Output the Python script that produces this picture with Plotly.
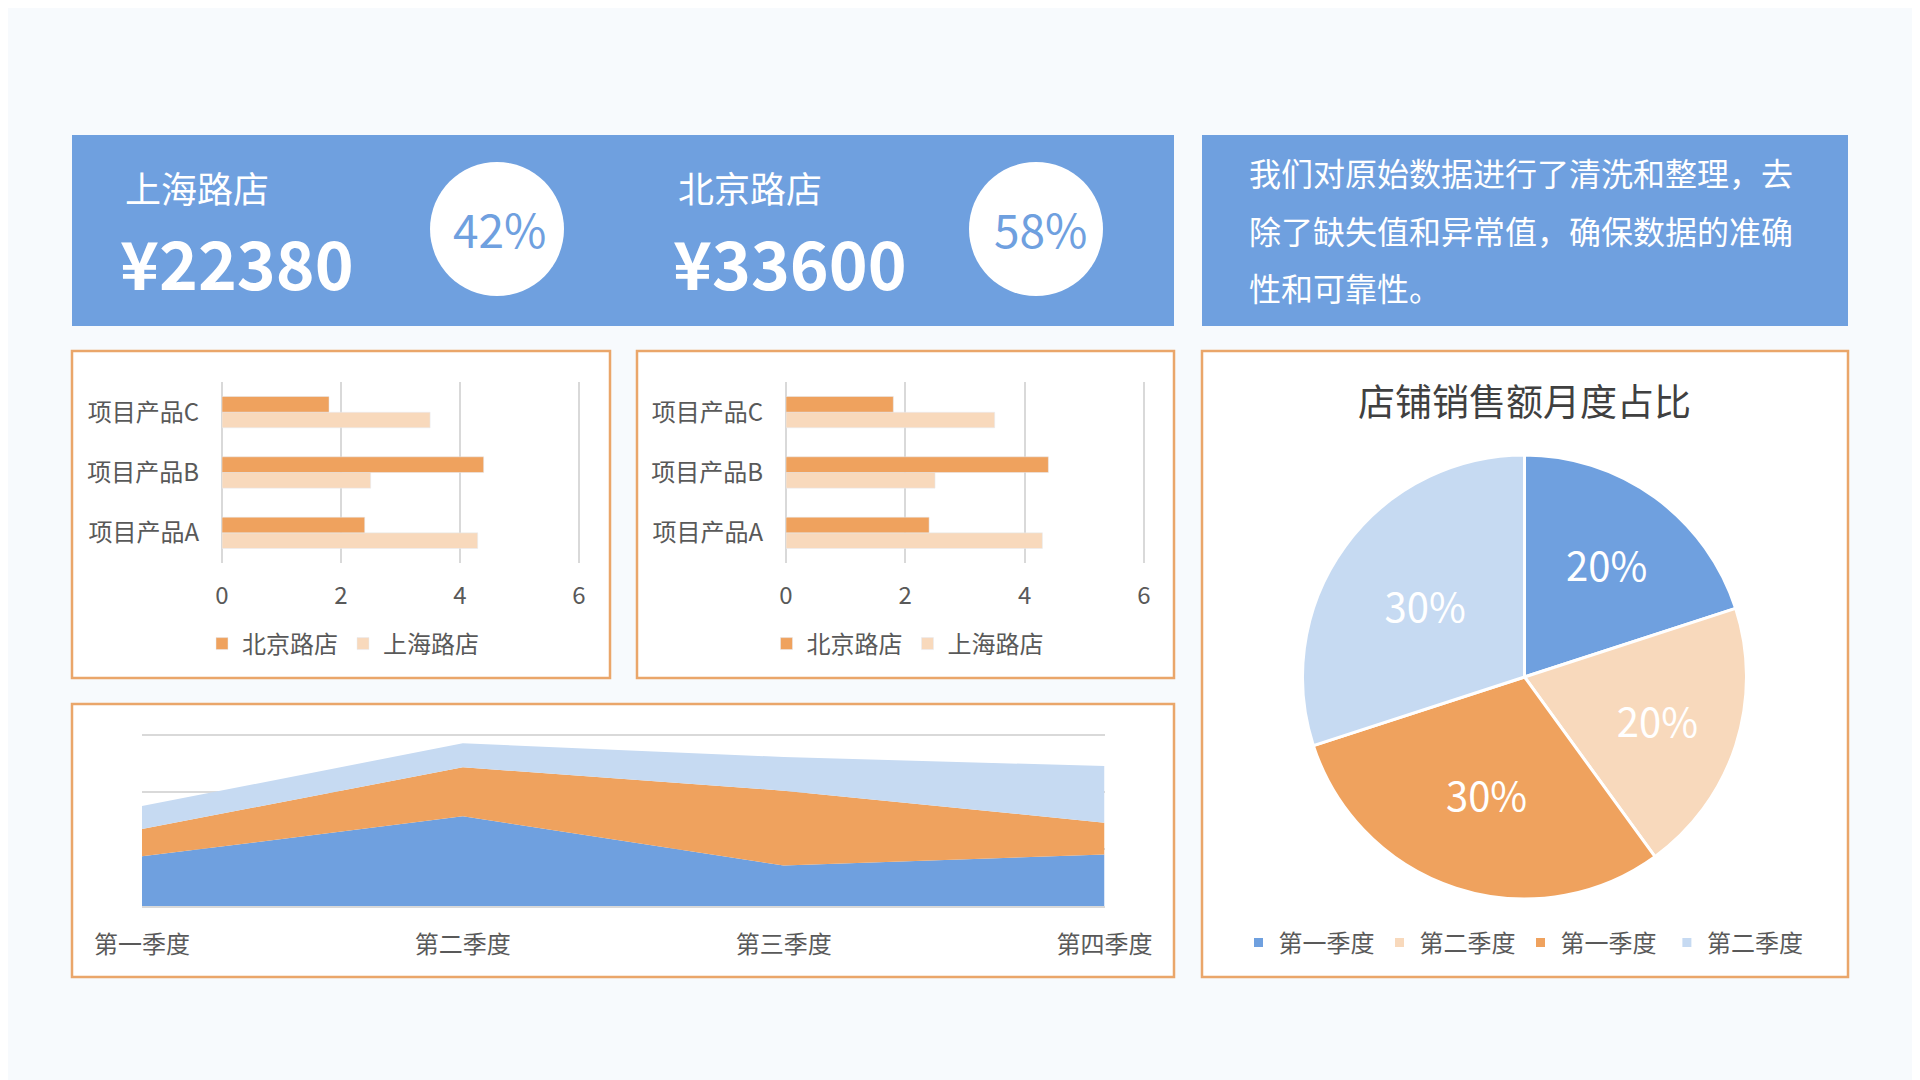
import plotly.graph_objects as go

# 数据
products = ["项目产品A", "项目产品B", "项目产品C"]
shanghai_vals = [4.3, 2.5, 3.5]
beijing_vals = [2.4, 4.4, 1.8]

quarters = ["第一季度", "第二季度", "第三季度", "第四季度"]
area_s1 = [8.7, 15.7, 7.1, 9.0]
area_s2 = [4.8, 8.6, 13.1, 5.6]
area_s3 = [4.0, 4.2, 5.9, 9.9]

pie_labels = ["第一季度", "第二季度", "第一季度 ", "第二季度 "]
pie_values = [20, 20, 30, 30]

stores = ["上海路店", "北京路店"]
store_sales = ["¥22380", "¥33600"]
store_share = ["42%", "58%"]

note_lines = ["我们对原始数据进行了清洗和整理，去",
              "除了缺失值和异常值，确保数据的准确",
              "性和可靠性。"]

# 颜色
BLUE = "#6FA0DF"
ORANGE = "#EFA25E"
PEACH = "#F8D9BC"
LIGHT_BLUE = "#C6DAF2"
BORDER = "#EAA66A"
GRID = "#D9D9D9"
TEXT = "#595959"
FONT = "Noto Sans CJK SC"

W, H = 1920, 1080
OFF = 8  # 页面 body 的边距


def px(x):
    return (x - OFF) / W


def py(y):
    return 1 - (y - OFF) / H


fig = go.Figure()

# 条形图（两个一样的）
for xa, ya, lg in [("x", "y", "legend"), ("x2", "y2", "legend2")]:
    fig.add_trace(go.Bar(
        y=products, x=shanghai_vals, orientation="h", name="上海路店",
        marker=dict(color=PEACH), xaxis=xa, yaxis=ya, legend=lg, legendrank=2
    ))
    fig.add_trace(go.Bar(
        y=products, x=beijing_vals, orientation="h", name="北京路店",
        marker=dict(color=ORANGE), xaxis=xa, yaxis=ya, legend=lg, legendrank=1
    ))

# 面积图
for vals, color in [(area_s1, BLUE), (area_s2, ORANGE), (area_s3, LIGHT_BLUE)]:
    fig.add_trace(go.Scatter(
        x=quarters, y=vals, mode="lines", stackgroup="one",
        line=dict(width=0, color=color), fillcolor=color,
        xaxis="x3", yaxis="y3", showlegend=False
    ))

# 饼图
fig.add_trace(go.Pie(
    labels=pie_labels, values=pie_values, sort=False, direction="clockwise",
    rotation=0, textinfo="percent", textposition="inside",
    insidetextorientation="horizontal",
    textfont=dict(size=40, color="white", family=FONT),
    marker=dict(colors=[BLUE, PEACH, ORANGE, LIGHT_BLUE], line=dict(color="white", width=3)),
    domain=dict(x=[px(1302.5), px(1746.5)], y=[py(899), py(455)]),
    legend="legend3", hoverinfo="label+percent"
))

# 背景面板
shapes = []
for x0, y0, x1, y1 in [(72, 135, 1174, 326), (1202, 135, 1848, 326)]:
    shapes.append(dict(type="rect", xref="paper", yref="paper", x0=px(x0), x1=px(x1),
                       y0=py(y1), y1=py(y0), fillcolor=BLUE, line=dict(width=0), layer="below"))
for x0, y0, x1, y1 in [(72, 351, 610, 678), (637, 351, 1174, 678),
                       (72, 704, 1174, 977), (1202, 351, 1848, 977)]:
    shapes.append(dict(type="rect", xref="paper", yref="paper", x0=px(x0), x1=px(x1),
                       y0=py(y1), y1=py(y0), fillcolor="white",
                       line=dict(color=BORDER, width=2.5), layer="below"))
for cx in [497, 1036]:
    shapes.append(dict(type="circle", xref="paper", yref="paper", x0=px(cx - 67), x1=px(cx + 67),
                       y0=py(229 + 67), y1=py(229 - 67), fillcolor="white", line=dict(width=0)))

annotations = []
for name, sales, share, x0, cx in zip(stores, store_sales, store_share, [124, 677], [500, 1040]):
    annotations.append(dict(text=name, x=px(x0), y=py(187), xref="paper", yref="paper",
                            xanchor="left", yanchor="middle", showarrow=False, borderpad=0,
                            font=dict(size=36, color="white", family=FONT)))
    annotations.append(dict(text="<b>" + sales + "</b>", x=px(x0 - 5), y=py(261), xref="paper", yref="paper",
                            xanchor="left", yanchor="middle", showarrow=False, borderpad=0,
                            font=dict(size=66, color="white", family=FONT)))
    annotations.append(dict(text=share, x=px(cx), y=py(228), xref="paper", yref="paper",
                            xanchor="center", yanchor="middle", showarrow=False,
                            font=dict(size=46, color=BLUE, family=FONT)))

for i, line in enumerate(note_lines):
    annotations.append(dict(text=line, x=px(1247), y=py(172 + i * 57.5), xref="paper", yref="paper",
                            xanchor="left", yanchor="middle", showarrow=False,
                            font=dict(size=32, color="white", family=FONT)))

annotations.append(dict(text="店铺销售额月度占比", x=px(1524.5), y=py(400), xref="paper", yref="paper",
                        xanchor="center", yanchor="middle", showarrow=False,
                        font=dict(size=37, color="#404040", family=FONT)))

bar_x = dict(range=[0, 6.02], tickvals=[0, 2, 4, 6], showgrid=True, gridcolor=GRID, gridwidth=1.5,
             zeroline=True, zerolinecolor=GRID, zerolinewidth=1.5, showline=False, automargin=False,
             tickfont=dict(size=24, color=TEXT, family=FONT), ticklabelstandoff=16, fixedrange=True)
bar_y = dict(showgrid=False, zeroline=False, showline=False, automargin=False,
             tickfont=dict(size=24, color=TEXT, family=FONT), ticklabelstandoff=22, fixedrange=True)

legend_style = dict(orientation="h", xanchor="center", yanchor="middle",
                    font=dict(size=24, color=TEXT, family=FONT), bgcolor="rgba(0,0,0,0)",
                    traceorder="normal")

fig.update_layout(
    width=W, height=H,
    margin=dict(l=0, r=0, t=0, b=0, autoexpand=False),
    paper_bgcolor="#F7FAFD",
    plot_bgcolor="rgba(0,0,0,0)",
    barmode="group", bargap=0.48, bargroupgap=0,
    xaxis=dict(domain=[px(222), px(580)], anchor="y", **bar_x),
    yaxis=dict(domain=[py(563), py(382)], anchor="x", **bar_y),
    xaxis2=dict(domain=[px(786), px(1145)], anchor="y2", **bar_x),
    yaxis2=dict(domain=[py(563), py(382)], anchor="x2", **bar_y),
    xaxis3=dict(domain=[px(142), px(1104.5)], anchor="y3", range=[0, 3],
                showgrid=False, zeroline=False, showline=True, linecolor=GRID, linewidth=2,
                automargin=False, tickfont=dict(size=24, color=TEXT, family=FONT),
                ticklabelstandoff=16, fixedrange=True),
    yaxis3=dict(domain=[py(906), py(733)], anchor="x3", range=[0, 30.3], tickvals=[10, 20, 30],
                showgrid=True, gridcolor=GRID, gridwidth=2, zeroline=False,
                showticklabels=False, automargin=False, fixedrange=True),
    legend=dict(x=px(343), y=py(644), **legend_style),
    legend2=dict(x=px(907.5), y=py(644), **legend_style),
    legend3=dict(x=px(1526), y=py(943), **legend_style),
    shapes=shapes,
    annotations=annotations,
    font=dict(family=FONT),
)

fig.write_html("out.html")
